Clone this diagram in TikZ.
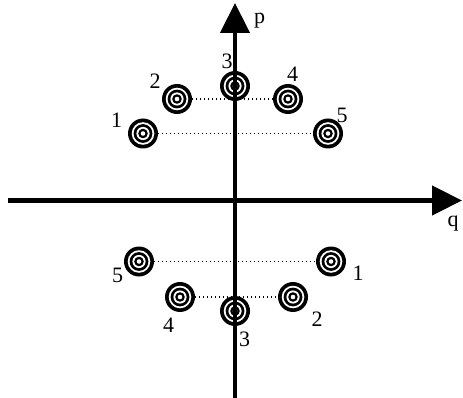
\documentclass[tikz,border=0pt]{standalone}
\usepackage{fontspec}
\setmainfont{Liberation Serif}
\usetikzlibrary{arrows.meta}
\tikzset{
  target/.style={circle, fill=black, minimum size=30pt, inner sep=0pt, outer sep=0pt,
    path picture={
      \fill[white] (path picture bounding box.center) circle (11.3pt);
      \fill[black] (path picture bounding box.center) circle (9.4pt);
      \fill[white] (path picture bounding box.center) circle (6.6pt);
      \fill[black] (path picture bounding box.center) circle (4.8pt);
      \fill[white] (path picture bounding box.center) circle (2.3pt);
    }},
  lbl/.style={font=\fontsize{22}{26}\selectfont, inner sep=0pt},
  link/.style={line width=1.2pt, dash pattern=on 1.2pt off 2.8pt},
  axis/.style={line width=4.5pt, -{Triangle[width=29pt,length=30pt]}},
}
\begin{document}
\begin{tikzpicture}[x=1pt,y=-1pt]
\useasboundingbox (0,0) rectangle (463,398);
% upper targets
\node[target] (u1) at (143,133.5) {};
\node[target] (u2) at (177,99) {};
\node[target] (u3) at (235,86) {};
\node[target] (u4) at (288,99) {};
\node[target] (u5) at (328,133.5) {};
% lower targets
\node[target] (l5) at (139,261.5) {};
\node[target] (l1) at (331,261.5) {};
\node[target] (l4) at (180,297) {};
\node[target] (l3) at (235,311) {};
\node[target] (l2) at (293,297) {};
% dotted links
\draw[link] (u2) -- (u4);
\draw[link] (u1) -- (u5);
\draw[link] (l5) -- (l1);
\draw[link] (l4) -- (l2);
% axes
\coordinate (pbot) at (235,398);
\coordinate (ptop) at (235,3);
\coordinate (qleft) at (8,200.5);
\coordinate (qright) at (462,200.5);
\draw[axis] (pbot) -- (ptop);
\draw[axis] (qleft) -- (qright);
% axis labels
\node[lbl] (plabel) at (259.5,20.5) {p};
\node[lbl] (qlabel) at (453,224) {q};
% upper labels
\node[lbl] (nu1) at (116.5,120) {1};
\node[lbl] (nu2) at (155,81.5) {2};
\node[lbl] (nu3) at (227,61) {3};
\node[lbl] (nu4) at (292.5,74) {4};
\node[lbl] (nu5) at (342,115) {5};
% lower labels
\node[lbl] (nl5) at (117.5,275) {5};
\node[lbl] (nl1) at (358,273) {1};
\node[lbl] (nl4) at (168.5,325) {4};
\node[lbl] (nl3) at (244.5,339) {3};
\node[lbl] (nl2) at (317,319.5) {2};
\end{tikzpicture}
\end{document}
